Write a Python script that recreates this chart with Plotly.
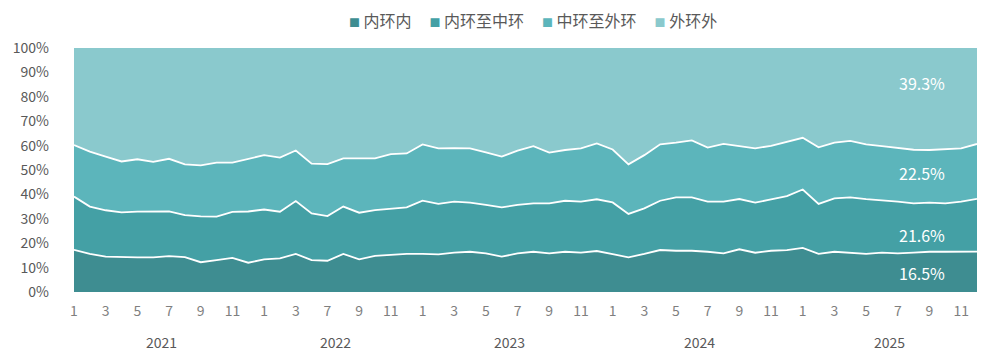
import plotly.graph_objects as go

# ---- data ----
years = [2021] * 12 + [2022] * 10 + [2023] * 12 + [2024] * 12 + [2025] * 12
months = (list(range(1, 13)) + [1, 2, 3, 6, 7, 8, 9, 10, 11, 12]
          + list(range(1, 13)) + list(range(1, 13)) + list(range(1, 13)))

inner = [17.3, 15.6, 14.5, 14.2, 14.2, 14.2, 14.7, 14.3, 12.2, 13.1, 14.0, 12.0,
         13.4, 13.8, 15.6, 13.1, 12.8, 15.6, 13.4, 14.8, 15.2, 15.6,
         15.6, 15.4, 16.1, 16.5, 15.8, 14.5, 15.8, 16.5, 15.8, 16.5, 16.1, 16.8,
         15.5, 14.2, 15.6, 17.2, 16.9, 16.9, 16.5, 15.8, 17.5, 16.1, 16.9, 17.2,
         18.1, 15.6, 16.5, 16.1, 15.6, 16.1, 15.8, 16.1, 16.5, 16.5, 16.5, 16.5]
inner_mid = [21.8, 19.4, 19.0, 18.4, 18.7, 18.8, 18.3, 17.2, 18.8, 17.8, 18.8, 21.0,
             20.4, 19.1, 21.7, 19.1, 18.3, 19.4, 19.1, 18.8, 19.1, 19.1,
             21.8, 20.7, 20.9, 20.1, 19.9, 20.2, 19.9, 19.8, 20.5, 20.9, 20.9, 21.2,
             21.2, 17.8, 18.7, 20.2, 21.9, 21.9, 20.5, 21.2, 20.6, 20.5, 21.1, 22.1,
             23.9, 20.5, 21.9, 22.7, 22.5, 21.6, 21.2, 20.2, 20.1, 19.8, 20.5, 21.6]
mid_outer = [21.1, 22.5, 22.0, 20.9, 21.5, 20.3, 21.6, 20.8, 20.9, 22.1, 20.2, 21.4,
             22.3, 22.2, 20.7, 20.4, 21.3, 19.8, 22.3, 21.2, 22.2, 22.1,
             23.1, 22.8, 22.0, 22.3, 21.5, 20.8, 22.2, 23.5, 20.8, 20.8, 21.9, 22.9,
             21.7, 20.3, 21.8, 23.1, 22.4, 23.3, 22.2, 23.7, 21.7, 22.3, 21.9, 22.3,
             21.2, 23.2, 22.8, 23.1, 22.4, 22.1, 21.9, 22.0, 21.6, 22.4, 21.9, 22.5]
outer = [39.8, 42.5, 44.5, 46.5, 45.6, 46.7, 45.4, 47.7, 48.1, 47.0, 47.0, 45.6,
         43.9, 44.9, 42.0, 47.4, 47.6, 45.2, 45.2, 45.2, 43.5, 43.2,
         39.5, 41.1, 41.0, 41.1, 42.8, 44.5, 42.1, 40.2, 42.9, 41.8, 41.1, 39.1,
         41.6, 47.7, 43.9, 39.5, 38.8, 37.9, 40.8, 39.3, 40.2, 41.1, 40.1, 38.4,
         36.8, 40.7, 38.8, 38.1, 39.5, 40.2, 41.1, 41.7, 41.8, 41.3, 41.1, 39.3]

series_names = ["内环内", "内环至中环", "中环至外环", "外环外"]
series_values = [inner, inner_mid, mid_outer, outer]
colors = ["#3E8D91", "#44A0A5", "#5CB5BB", "#8AC9CD"]
last_labels = ["16.5%", "21.6%", "22.5%", "39.3%"]
label_y = [7.8, 23.5, 48.8, 85.5]

# ---- figure ----
x = list(range(len(months)))
font_family = "Noto Sans CJK SC, Noto Sans, sans-serif"
grey = "#595959"
light_grey = "#7F7F7F"

fig = go.Figure()
for name, vals, col in zip(series_names, series_values, colors):
    fig.add_trace(go.Scatter(
        x=x, y=vals, name=name, mode="lines", stackgroup="one", groupnorm="percent",
        line=dict(color="white", width=0 if name == "外环外" else 1.8),
        fillcolor=col, showlegend=False, hoverinfo="skip"))

tickvals = [i for i, m in enumerate(months) if m % 2 == 1]
ticktext = [str(months[i]) for i in tickvals]

# page body has an 8px margin: figure coords = screen coords - 8
W, H = 973, 346
L, T, R, B = 66, 40, 4, 62
pw, ph = W - L - R, H - T - B

annotations = []
legend_parts = [f"<span style='color:{c};font-size:11px'>■</span> {n}"
                for n, c in zip(series_names, colors)]
annotations.append(dict(x=(525 - L) / pw, y=1 + (T - 12) / ph, xref="paper", yref="paper",
                        text="&nbsp;&nbsp;&nbsp;&nbsp;&nbsp;".join(legend_parts), showarrow=False,
                        xanchor="center", yanchor="middle",
                        font=dict(size=16, color=grey, family=font_family)))
for yr in sorted(set(years)):
    idx = [i for i, y in enumerate(years) if y == yr]
    annotations.append(dict(x=(idx[0] + idx[-1]) / 2, y=-50 / ph, xref="x", yref="paper",
                            text=str(yr), showarrow=False, yanchor="middle",
                            font=dict(size=14, color=grey, family=font_family)))
for txt, yv in zip(last_labels, label_y):
    annotations.append(dict(x=53.5, y=yv, xref="x", yref="y", text=txt, showarrow=False,
                            font=dict(size=16, color="white", family=font_family)))

fig.update_layout(
    width=W, height=H,
    margin=dict(l=L, r=R, t=T, b=B, autoexpand=False),
    paper_bgcolor="white", plot_bgcolor="white",
    font=dict(family=font_family, color=grey, size=13),
    showlegend=False,
    xaxis=dict(range=[0, len(months) - 1], tickmode="array", tickvals=tickvals, ticktext=ticktext,
               showgrid=False, zeroline=False, showline=False, ticks="", automargin=False,
               tickfont=dict(size=14, color=light_grey), ticklabelstandoff=9),
    yaxis=dict(range=[0, 100], dtick=10, ticksuffix="%", showgrid=False, zeroline=False,
               showline=False, ticks="", automargin=False, tickfont=dict(size=14, color=grey),
               ticklabelstandoff=24),
    annotations=annotations,
)

fig.write_html("out.html")
